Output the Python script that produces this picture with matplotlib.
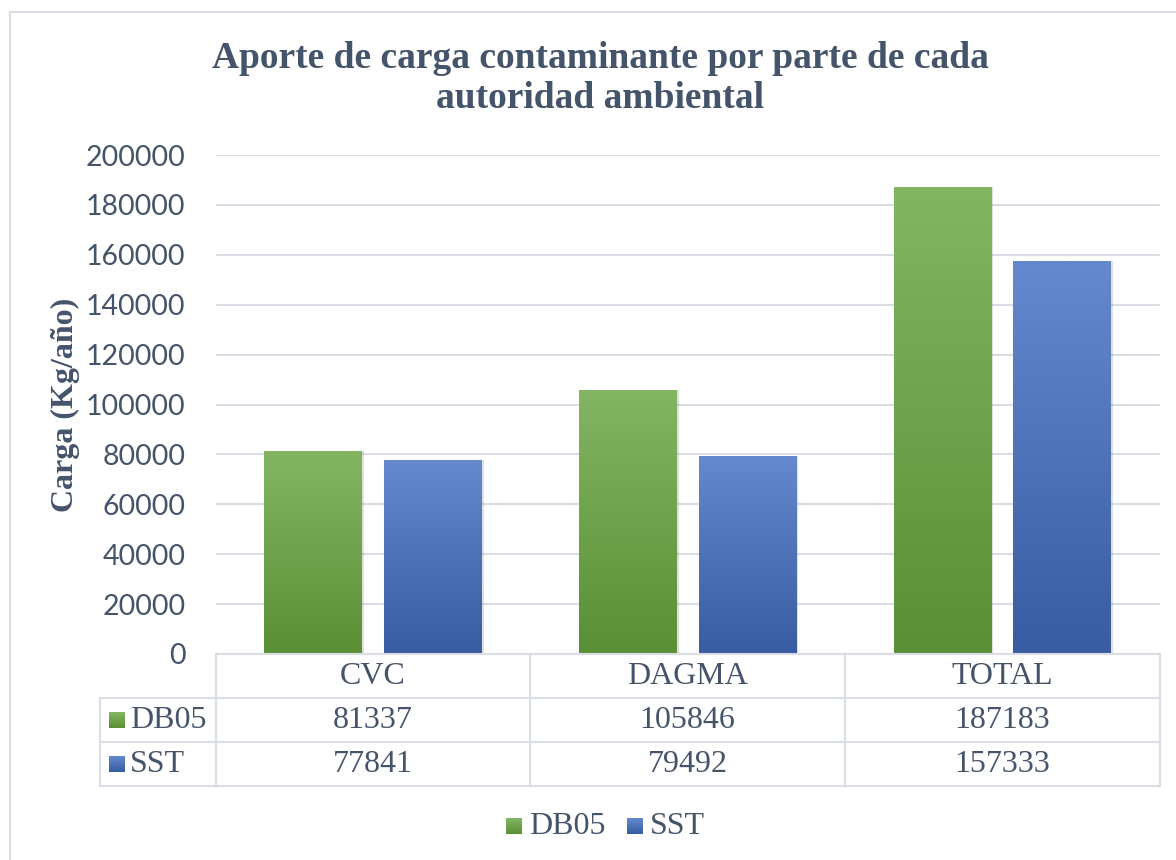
import matplotlib
matplotlib.use("Agg")
import matplotlib.pyplot as plt
import numpy as np
from matplotlib.patches import Rectangle
from matplotlib.colors import LinearSegmentedColormap

categories = ["CVC", "DAGMA", "TOTAL"]
series_names = ["DB05", "SST"]
db05 = [81337, 105846, 187183]
sst = [77841, 79492, 157333]
yticks = [0, 20000, 40000, 60000, 80000, 100000, 120000, 140000, 160000, 180000, 200000]

TXT = "#44546A"
GRID = "#D9DDE5"
green_top, green_bot = "#84B563", "#5A8F35"
blue_top, blue_bot = "#6589CE", "#375CA2"

W, H = 1176, 860
fig = plt.figure(figsize=(W / 100, H / 100), dpi=100)

def fx(px):
    return px / W

def fy(py):
    return 1 - py / H

# outer frame
fig.patches.append(Rectangle((fx(10), fy(875)), fx(1190) - fx(10), fy(12) - fy(875),
                             transform=fig.transFigure, fill=False, edgecolor=GRID, lw=1.5))

ax_l, ax_r, ax_t, ax_b = 216, 1160, 155, 654
ax = fig.add_axes([fx(ax_l), fy(ax_b), fx(ax_r) - fx(ax_l), fy(ax_t) - fy(ax_b)])
ax.set_xlim(0, 3)
ax.set_ylim(0, 200000)
for s in ax.spines.values():
    s.set_visible(False)
ax.set_yticks(yticks)
ax.set_yticklabels([str(v) for v in yticks], fontsize=20.5, color=TXT, family="Lato")
ax.tick_params(axis="y", length=0, pad=22)
ax.set_xticks([])
ax.grid(axis="y", color=GRID, lw=1.5)
ax.set_axisbelow(True)

bw = 0.311
offs = [-0.191, 0.189]

def grad_bar(x, h, c_top, c_bot):
    x0 = x - bw / 2
    sh = Rectangle((x0 + 0.006, 0), bw, h, facecolor="#000000", alpha=0.12, lw=0, zorder=2)
    ax.add_patch(sh)
    rect = Rectangle((x0, 0), bw, h, facecolor="none", lw=0, zorder=3)
    ax.add_patch(rect)
    cmap = LinearSegmentedColormap.from_list("g", [c_bot, c_top])
    grad = np.linspace(0, 1, 256).reshape(-1, 1)
    im = ax.imshow(grad, cmap=cmap, aspect="auto", origin="lower",
                   extent=[x0, x0 + bw, 0, h], zorder=3)
    im.set_clip_path(rect)

for i in range(len(categories)):
    grad_bar(i + 0.5 + offs[0], db05[i], green_top, green_bot)
    grad_bar(i + 0.5 + offs[1], sst[i], blue_top, blue_bot)
ax.set_xlim(0, 3)
ax.set_ylim(0, 200000)

# y label
fig.text(fx(65), fy(405), "Carga (Kg/año)", rotation=90, ha="center", va="center",
         fontsize=23, fontweight="bold", family="Liberation Serif", color=TXT)

# title
fig.text(fx(600), fy(58), "Aporte de carga contaminante por parte de cada",
         ha="center", va="center", fontsize=27, fontweight="bold",
         family="Liberation Serif", color=TXT)
fig.text(fx(600), fy(99), "autoridad ambiental",
         ha="center", va="center", fontsize=27, fontweight="bold",
         family="Liberation Serif", color=TXT)

# data table
col_x = [216, 530, 845, 1160]
row_y = [654, 698, 742, 786]
left_x = 100

def hline(x0, x1, y):
    fig.add_artist(plt.Line2D([fx(x0), fx(x1)], [fy(y), fy(y)], color=GRID, lw=1.5,
                              transform=fig.transFigure))

def vline(x, y0, y1):
    fig.add_artist(plt.Line2D([fx(x), fx(x)], [fy(y0), fy(y1)], color=GRID, lw=1.5,
                              transform=fig.transFigure))

hline(col_x[0], col_x[-1], row_y[0])
for y in row_y[1:]:
    hline(left_x, col_x[-1], y)
for x in col_x:
    vline(x, row_y[0], row_y[-1])
vline(left_x, row_y[1], row_y[-1])

tfont = dict(fontsize=23, family="Liberation Serif", color=TXT, va="center")
for i, c in enumerate(categories):
    cx = (col_x[i] + col_x[i + 1]) / 2
    fig.text(fx(cx), fy((row_y[0] + row_y[1]) / 2), c, ha="center", **tfont)
    fig.text(fx(cx), fy((row_y[1] + row_y[2]) / 2), str(db05[i]), ha="center", **tfont)
    fig.text(fx(cx), fy((row_y[2] + row_y[3]) / 2), str(sst[i]), ha="center", **tfont)

def swatch(px, py, c_top, c_bot, size=16):
    cax = fig.add_axes([fx(px), fy(py + size / 2), size / W, size / H])
    cmap = LinearSegmentedColormap.from_list("s", [c_bot, c_top])
    cax.imshow(np.linspace(0, 1, 64).reshape(-1, 1), cmap=cmap, aspect="auto", origin="lower")
    cax.axis("off")

sw = [(green_top, green_bot), (blue_top, blue_bot)]
for r, name in enumerate(series_names):
    yc = (row_y[r + 1] + row_y[r + 2]) / 2
    swatch(109, yc, *sw[r])
    fig.text(fx(130), fy(yc), name, ha="left", **tfont)

# legend
legend_x = [506, 627]
for k, name in enumerate(series_names):
    swatch(legend_x[k], 826, *sw[k])
    fig.text(fx(legend_x[k] + 23), fy(826), name, ha="left", **tfont)

fig.savefig("out.png", dpi=100)
